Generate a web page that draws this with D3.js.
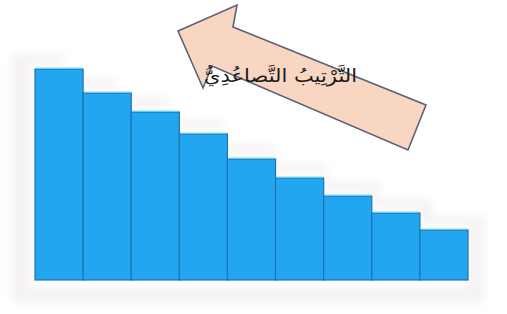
<!DOCTYPE html>
<html lang="ar">
<head>
    <meta charset="UTF-8">
    <title>الترتيب التصاعدي</title>
    <script src="https://d3js.org/d3.v7.min.js"></script>
    <style>
        body { margin: 0; background: #ffffff; }
        .bar { stroke: #1b74b4; stroke-width: 1.2px; }
        .label { font-family: "DejaVu Sans", sans-serif; fill: #1a1a1a; }
    </style>
</head>
<body>
<svg width="507" height="314"></svg>
<script>
    // bar categories and heights (arbitrary units)
    var categories = ["1", "2", "3", "4", "5", "6", "7", "8", "9"];
    var values = [211, 187, 168, 146, 121, 102, 84, 67, 50];
    var title = "التَّرْتِيبُ التَّصاعُدِيُّ";

    var config = {
        "left": 35,
        "right": 468,
        "bottom": 280,
        "top": 69,
        "bar_fill": "#22a6ef",
        "arrow_fill": "#f8d6c2",
        "arrow_stroke": "#5b6274",
        "title_right": 357,
        "title_width": 153
    };

    var svg = d3.select("svg");

    var xScale = d3.scaleBand()
        .domain(categories)
        .range([config.left, config.right])
        .padding(0);

    var yScale = d3.scaleLinear()
        .domain([0, d3.max(values)])
        .range([config.bottom, config.top]);

    var defs = svg.append("defs");
    defs.append("filter").attr("id", "soft")
        .attr("x", "-10%").attr("y", "-10%").attr("width", "120%").attr("height", "120%")
        .append("feGaussianBlur").attr("stdDeviation", 4);

    // faint shadow behind the bars, following the staircase
    var stepX = function (d, i) { return i < categories.length ? xScale(categories[i]) : config.right; };
    var shadeData = values.concat([values[values.length - 1]]);
    var sg = svg.append("g").attr("filter", "url(#soft)");
    sg.append("path")
        .datum(shadeData)
        .attr("d", d3.area().curve(d3.curveStepAfter).x(stepX)
            .y0(config.bottom + 22)
            .y1(function (d) { return yScale(d) - 14; }))
        .attr("transform", "translate(-26,0) scale(1.09,1)")
        .attr("fill", "#f5f2f2");
    sg.append("path")
        .datum(shadeData)
        .attr("d", d3.area().curve(d3.curveStepAfter).x(stepX)
            .y0(config.bottom + 8)
            .y1(function (d) { return yScale(d) - 5; }))
        .attr("transform", "translate(-6,0) scale(1.012,1)")
        .attr("fill", "#ffffff");

    // bars
    svg.selectAll("rect.bar")
        .data(values)
        .enter()
        .append("rect")
        .attr("class", "bar")
        .attr("x", function (d, i) { return xScale(categories[i]); })
        .attr("y", function (d) { return yScale(d); })
        .attr("width", xScale.bandwidth())
        .attr("height", function (d) { return config.bottom - yScale(d); })
        .attr("fill", config.bar_fill);

    // light highlight on the top edge of each bar
    svg.selectAll("line.top")
        .data(values)
        .enter()
        .append("line")
        .attr("x1", function (d, i) { return xScale(categories[i]) + 1; })
        .attr("x2", function (d, i) { return xScale(categories[i]) + xScale.bandwidth() - 1; })
        .attr("y1", function (d) { return yScale(d) - 1; })
        .attr("y2", function (d) { return yScale(d) - 1; })
        .attr("stroke", "#7fe0fb")
        .attr("stroke-width", 1.2);

    // big block arrow pointing up-left
    var arrowPoints = [
        [178, 31], [237, 5], [233, 27], [426, 105],
        [408, 150], [212, 66], [203, 88]
    ];
    svg.append("path")
        .attr("d", d3.line()(arrowPoints) + "Z")
        .attr("fill", config.arrow_fill)
        .attr("stroke", config.arrow_stroke)
        .attr("stroke-width", 1.6)
        .attr("stroke-linejoin", "miter");

    // title, stretched horizontally to the width seen in the picture
    var tg = svg.append("g");
    var t = tg.append("text")
        .attr("class", "label")
        .attr("x", 0)
        .attr("y", 0)
        .attr("direction", "rtl")
        .attr("text-anchor", "start")
        .attr("font-size", 18)
        .text(title);
    var w = t.node().getComputedTextLength();
    var sx = config.title_width / w;
    tg.attr("transform", "translate(" + config.title_right + ",82) scale(" + sx + ",1)");
</script>
</body>
</html>
